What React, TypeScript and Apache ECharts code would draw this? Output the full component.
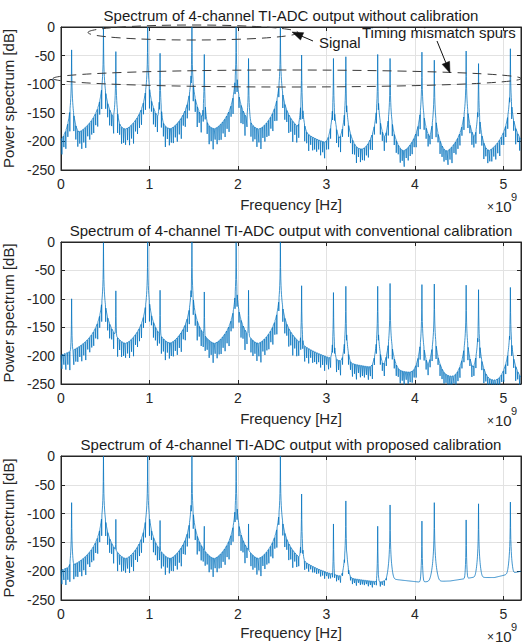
import React, { useEffect, useRef } from "react";
import * as echarts from "echarts";

// ---------- data ----------
const X_MIN = 0;
const X_MAX = 5.2; // x 1e9 Hz
const Y_MIN = -250;
const Y_MAX = 0;
const X_INTERVAL = 1;
const Y_INTERVAL = 50;

const titles = [
  "Spectrum of 4-channel TI-ADC output without calibration",
  "Spectrum of 4-channel TI-ADC output with conventional calibration",
  "Spectrum of 4-channel TI-ADC output with proposed calibration",
];
const xName = "Frequency [Hz]";
const yName = "Power spectrum [dB]";

// input tones (GHz)
const signalFreqs = [0.48, 0.98, 1.48, 1.98, 2.48];
// timing-mismatch spur positions (GHz)
const spurFreqs = [0.12, 0.62, 1.12, 1.62, 2.12, 2.72, 3.08, 3.22, 3.58, 3.72, 4.08, 4.22, 4.58, 4.72, 5.08];

// panel 1: without calibration
const signalLevels1 = [-1, 0, 0, 0, -1];
const spurLevels1 = [-40, -43, -46, -48, -55, -49, -55, -52, -48, -55, -44, -58, -42, -64, -38];
const floorX1 = [0, 0.3, 2.6, 2.9, 3.5, 4.0, 4.4, 4.9, 5.2];
const floorY1 = [-210, -196, -196, -212, -218, -225, -230, -228, -222];
const notchX1 = [0, 2.7, 2.8, 5.2];
const notchY1 = [28, 28, 22, 22];

// panel 2: conventional calibration
const signalLevels2 = [-1, 0, 0, -1, 0];
const spurLevels2 = [-100, -86, -85, -88, -85, -77, -89, -78, -78, -73, -75, -74, -76, -84, -80];
const floorX2 = [0, 0.3, 2.6, 2.9, 3.3, 3.9, 4.4, 4.9, 5.2];
const floorY2 = [-203, -196, -196, -210, -222, -232, -240, -248, -250];
const notchX2 = [0, 2.7, 2.8, 5.2];
const notchY2 = [25, 28, 20, 20];

// panel 3: proposed calibration
const signalLevels3 = [0, 0, 0, 0, 0];
const spurLevels3 = [-81, -110, -112, -122, -118, -66, -118, -78, -122, -85, -113, -81, -111, -83, -80];
const floorX3 = [0, 0.3, 2.6, 2.9, 3.3, 3.6, 3.75, 4.05, 4.4, 4.65, 4.9, 5.2];
const floorY3 = [-203, -196, -196, -210, -216, -220, -214, -219, -217, -211, -211, -200];
const notchX3 = [0, 2.6, 2.8, 3.65, 3.72, 5.2];
const notchY3 = [25, 25, 10, 8, 0, 0];

// relative depth of successive leakage nulls (cycled), read from the comb's ragged lower edge
const notchPattern = [1.0, 0.75, 1.15, 0.85, 1.3, 0.7, 1.05, 0.9];

// ---------- helpers ----------
function interp(xs: number[], ys: number[], x: number): number {
  if (x <= xs[0]) return ys[0];
  for (let i = 1; i < xs.length; i++) {
    if (x <= xs[i]) {
      const t = (x - xs[i - 1]) / (xs[i] - xs[i - 1]);
      return ys[i - 1] + t * (ys[i] - ys[i - 1]);
    }
  }
  return ys[ys.length - 1];
}

function buildSpectrum(
  sig: number[],
  spur: number[],
  fx: number[],
  fy: number[],
  nx: number[],
  ny: number[]
): number[][] {
  const step = 0.0025;
  const notchEvery = 9;
  const n = Math.round(X_MAX / step);
  const peaks: number[][] = [
    ...signalFreqs.map((f, i) => [f, sig[i]]),
    ...spurFreqs.map((f, i) => [f, spur[i]]),
  ];
  const out: number[][] = [];
  for (let i = 0; i <= n; i++) {
    const x = i * step;
    let p = Math.pow(10, interp(fx, fy, x) / 10);
    let dmin = Infinity;
    let exact = -Infinity;
    for (const [f, L] of peaks) {
      const d = Math.abs(x - f);
      if (d < dmin) dmin = d;
      if (d < step / 2) {
        exact = Math.max(exact, L);
        continue;
      }
      const s = Math.min(L, L - 110 - 68 * (Math.log10(d) + 1.64));
      p += Math.pow(10, s / 10);
    }
    let y = 10 * Math.log10(p);
    if (exact > -Infinity) y = Math.max(y, exact);
    else if (i % notchEvery === 4 && dmin > 0.006) {
      const k = Math.floor(i / notchEvery) % notchPattern.length;
      y -= interp(nx, ny, x) * notchPattern[k];
    }
    out.push([Number(x.toFixed(4)), Math.max(y, -275)]);
  }
  return out;
}

const FONT = '"Liberation Sans", Arial, Helvetica, sans-serif';
const TXT = "#262626";

const gridTops = [27, 242, 456];
const gridHeights = [143, 142, 144];
const GRID_LEFT = 61;
const GRID_WIDTH = 460;
const titleY = [15, 230, 444];

function arrow(x1: number, y1: number, x2: number, y2: number): any[] {
  const dx = x2 - x1;
  const dy = y2 - y1;
  const len = Math.sqrt(dx * dx + dy * dy);
  const ux = dx / len;
  const uy = dy / len;
  const hl = 11;
  const hw = 4;
  const bx = x2 - ux * hl;
  const by = y2 - uy * hl;
  return [
    {
      type: "line",
      shape: { x1, y1, x2: bx, y2: by },
      style: { stroke: "#111", lineWidth: 1 },
      z: 110,
    },
    {
      type: "polygon",
      shape: {
        points: [
          [x2, y2],
          [bx - uy * hw, by + ux * hw],
          [bx + uy * hw, by - ux * hw],
        ],
      },
      style: { fill: "#111", stroke: "#111", lineWidth: 0.5 },
      z: 110,
    },
  ];
}

export default function App() {
  const ref = useRef<HTMLDivElement>(null);

  useEffect(() => {
    if (!ref.current) return;
    const chart = echarts.init(ref.current, undefined, { renderer: "svg" });

    const spectra = [
      buildSpectrum(signalLevels1, spurLevels1, floorX1, floorY1, notchX1, notchY1),
      buildSpectrum(signalLevels2, spurLevels2, floorX2, floorY2, notchX2, notchY2),
      buildSpectrum(signalLevels3, spurLevels3, floorX3, floorY3, notchX3, notchY3),
    ];

    const grids = gridTops.map((t, i) => ({
      left: GRID_LEFT,
      top: t,
      width: GRID_WIDTH,
      height: gridHeights[i],
      containLabel: false,
      outerBoundsMode: "none",
      show: true,
      borderColor: TXT,
      borderWidth: 1,
      backgroundColor: "#fff",
    }));

    const xAxes: any[] = [];
    const yAxes: any[] = [];
    for (let i = 0; i < 3; i++) {
      xAxes.push({
        type: "value",
        gridIndex: i,
        min: X_MIN,
        max: X_MAX,
        interval: X_INTERVAL,
        position: "bottom",
        axisLine: { show: true, onZero: false, lineStyle: { color: TXT, width: 1 } },
        axisTick: { show: true, inside: true, length: 4, lineStyle: { color: TXT } },
        axisLabel: {
          color: TXT,
          fontSize: 14,
          fontFamily: FONT,
          margin: 7,
          formatter: (v: number) => (Math.abs(v - Math.round(v)) < 1e-6 ? String(Math.round(v)) : ""),
        },
        splitLine: { show: true, lineStyle: { color: "#e2e2e2", width: 1 } },
        name: xName,
        nameLocation: "middle",
        nameGap: i === 2 ? 25 : 27,
        nameTextStyle: { color: TXT, fontSize: 15, fontFamily: FONT },
      });
      yAxes.push({
        type: "value",
        gridIndex: i,
        min: Y_MIN,
        max: Y_MAX,
        interval: Y_INTERVAL,
        position: "left",
        axisLine: { show: true, onZero: false, lineStyle: { color: TXT, width: 1 } },
        axisTick: { show: true, inside: true, length: 4, lineStyle: { color: TXT } },
        axisLabel: { color: TXT, fontSize: 14, fontFamily: FONT, margin: 6 },
        splitLine: { show: true, lineStyle: { color: "#e2e2e2", width: 1 } },
        name: yName,
        nameLocation: "middle",
        nameRotate: 90,
        nameGap: 31,
        nameTextStyle: { color: TXT, fontSize: 15, fontFamily: FONT },
      });
    }
    for (let i = 0; i < 3; i++) {
      xAxes.push({
        type: "value",
        gridIndex: i,
        min: X_MIN,
        max: X_MAX,
        interval: X_INTERVAL,
        position: "top",
        axisLine: { show: true, onZero: false, lineStyle: { color: TXT, width: 1 } },
        axisTick: { show: true, inside: true, length: 4, lineStyle: { color: TXT } },
        axisLabel: { show: false },
        splitLine: { show: false },
      });
      yAxes.push({
        type: "value",
        gridIndex: i,
        min: Y_MIN,
        max: Y_MAX,
        interval: Y_INTERVAL,
        position: "right",
        axisLine: { show: true, onZero: false, lineStyle: { color: TXT, width: 1 } },
        axisTick: { show: true, inside: true, length: 4, lineStyle: { color: TXT } },
        axisLabel: { show: false },
        splitLine: { show: false },
      });
    }

    const series = spectra.map((d, i) => ({
      type: "line",
      xAxisIndex: i,
      yAxisIndex: i,
      data: d,
      showSymbol: false,
      symbol: "none",
      silent: true,
      clip: true,
      lineStyle: { color: "#0072BD", width: 0.75 },
      z: 5,
    }));

    const graphic: any[] = [];
    titles.forEach((t, i) => {
      graphic.push({
        type: "text",
        x: GRID_LEFT + GRID_WIDTH / 2,
        y: titleY[i],
        style: {
          text: t,
          fill: "#1a1a1a",
          font: `15px ${FONT}`,
          align: "center",
          verticalAlign: "middle",
        },
        z: 100,
      });
    });
    gridTops.forEach((t, i) => {
      const base = t + gridHeights[i];
      graphic.push(
        {
          type: "text",
          x: 494,
          y: base + 37,
          style: { text: "×", fill: TXT, font: `12px ${FONT}`, align: "right", verticalAlign: "middle" },
          z: 100,
        },
        {
          type: "text",
          x: 495,
          y: base + 36,
          style: { text: "10", fill: TXT, font: `15px ${FONT}`, align: "left", verticalAlign: "middle" },
          z: 100,
        },
        {
          type: "text",
          x: 511,
          y: base + 27,
          style: { text: "9", fill: TXT, font: `11px ${FONT}`, align: "left", verticalAlign: "middle" },
          z: 100,
        }
      );
    });

    // annotations on the first panel
    graphic.push(
      {
        type: "ellipse",
        shape: { cx: 193, cy: 32.5, rx: 105, ry: 7.5 },
        style: { fill: "none", stroke: "#3a3a3a", lineWidth: 1, lineDash: [9, 6] },
        z: 105,
      },
      {
        type: "ellipse",
        shape: { cx: 287, cy: 78.5, rx: 234, ry: 8.5 },
        style: { fill: "none", stroke: "#3a3a3a", lineWidth: 1, lineDash: [9, 6] },
        z: 105,
      },
      ...arrow(313, 41, 292, 32),
      ...arrow(437, 41, 450, 73),
      {
        type: "text",
        x: 319,
        y: 42,
        style: { text: "Signal", fill: "#1a1a1a", font: `15px ${FONT}`, align: "left", verticalAlign: "middle" },
        z: 110,
      },
      {
        type: "text",
        x: 362,
        y: 32,
        style: {
          text: "Timing mismatch spurs",
          fill: "#1a1a1a",
          font: `15px ${FONT}`,
          align: "left",
          verticalAlign: "middle",
        },
        z: 110,
      }
    );

    chart.setOption({
      animation: false,
      backgroundColor: "#fff",
      grid: grids,
      xAxis: xAxes,
      yAxis: yAxes,
      series,
      graphic,
    });

    return () => {
      chart.dispose();
    };
  }, []);

  return (
    <div
      ref={ref}
      style={{ position: "absolute", left: 0, top: 0, width: 522, height: 644, background: "#fff" }}
    />
  );
}
